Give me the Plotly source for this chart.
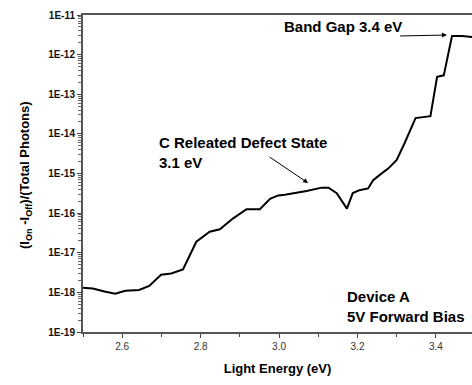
import plotly.graph_objects as go

energy = [2.50, 2.525, 2.555, 2.582, 2.608, 2.643, 2.669, 2.699, 2.725, 2.755, 2.789, 2.823, 2.849,
          2.883, 2.917, 2.951, 2.977, 2.998, 3.015, 3.07, 3.109, 3.126, 3.147, 3.173, 3.188, 3.205,
          3.227, 3.24, 3.256, 3.279, 3.30, 3.32, 3.348, 3.37, 3.386, 3.403, 3.42, 3.441, 3.467, 3.497]
signal = [1.3e-18, 1.25e-18, 1.05e-18, 0.93e-18, 1.1e-18, 1.15e-18, 1.45e-18, 2.8e-18, 3.0e-18,
          3.8e-18, 1.9e-17, 3.4e-17, 3.9e-17, 7.4e-17, 1.25e-16, 1.25e-16, 2.3e-16, 2.8e-16,
          2.9e-16, 3.6e-16, 4.4e-16, 4.4e-16, 3.2e-16, 1.3e-16, 3.2e-16, 3.8e-16, 4.2e-16,
          6.8e-16, 9.1e-16, 1.35e-15, 2.2e-15, 5.8e-15, 2.5e-14, 2.7e-14, 2.8e-14, 2.75e-13,
          3.0e-13, 2.95e-12, 2.95e-12, 2.75e-12]

ytick_vals = [1e-19, 1e-18, 1e-17, 1e-16, 1e-15, 1e-14, 1e-13, 1e-12, 1e-11]
ytick_text = ["1E-19", "1E-18", "1E-17", "1E-16", "1E-15", "1E-14", "1E-13", "1E-12", "1E-11"]
xtick_vals = [2.6, 2.8, 3.0, 3.2, 3.4]
xtick_text = ["2.6", "2.8", "3.0", "3.2", "3.4"]

FONT = "Liberation Sans, Arial, sans-serif"
L, T, W, H = 83, 15, 389, 317


def px(x):
    return (x - L) / W


def py(y):
    return 1 - (y - T) / H


fig = go.Figure()
fig.add_trace(go.Scatter(x=energy, y=signal, mode="lines",
                         line=dict(color="black", width=2), showlegend=False))

fig.update_layout(
    width=472, height=385,
    margin=dict(l=L, r=0, t=T, b=53),
    paper_bgcolor="white", plot_bgcolor="white",
    font=dict(family=FONT, color="black"),
    xaxis=dict(range=[2.5, 3.492], tickvals=xtick_vals, ticktext=xtick_text,
               ticks="outside", ticklen=4, tickwidth=1, tickcolor="#444",
               showline=True, linecolor="#555", linewidth=2, mirror=True,
               showgrid=False, zeroline=False,
               tickfont=dict(size=10, family=FONT, color="#333"),
               minor=dict(tickvals=[2.5, 2.7, 2.9, 3.1, 3.3], ticks="outside", ticklen=3, tickcolor="#444"),
               title=dict(text="<b>Light Energy (eV)</b>", font=dict(size=13, family=FONT), standoff=13)),
    yaxis=dict(type="log", range=[-19, -11], tickvals=ytick_vals, ticktext=ytick_text,
               ticks="outside", ticklen=4, tickwidth=1, tickcolor="#444",
               showline=True, linecolor="#555", linewidth=2,
               showgrid=False, zeroline=False,
               tickfont=dict(size=10, family=FONT, color="#111", weight="bold"),
               minor=dict(ticks="outside", ticklen=3, tickcolor="#666", dtick="D1")),
)

# y-axis title
fig.add_annotation(xref="paper", yref="paper", x=px(25), y=py(175), textangle=-90,
                   text="<b>(I<sub>On</sub> -I<sub>Off</sub>)/(Total Photons)</b>", showarrow=False,
                   xanchor="center", yanchor="middle", font=dict(size=13, family=FONT))

# Band gap arrow
fig.add_annotation(x=3.428, y=-11.505, xref="x", yref="y", ax=3.305, ay=-11.53, axref="x", ayref="y",
                   text="", showarrow=True, arrowhead=2, arrowsize=1, arrowwidth=1, arrowcolor="black")
fig.add_annotation(xref="paper", yref="paper", x=px(282), y=py(26),
                   text="<b>Band Gap 3.4 eV</b>", showarrow=False, xanchor="left", yanchor="middle",
                   font=dict(size=15, family=FONT))
fig.add_annotation(xref="paper", yref="paper", x=px(157), y=py(152),
                   text="<b>C Releated Defect State<br>3.1 eV</b>", showarrow=False, align="left",
                   xanchor="left", yanchor="middle", font=dict(size=15, family=FONT))
# Defect state arrow
fig.add_annotation(x=3.074, y=-15.24, xref="x", yref="y", ax=-40, ay=-27,
                   text="", showarrow=True, arrowhead=2, arrowsize=1, arrowwidth=1, arrowcolor="black")
fig.add_annotation(xref="paper", yref="paper", x=px(345), y=py(306),
                   text="<b>Device A<br>5V Forward Bias</b>", showarrow=False, align="left",
                   xanchor="left", yanchor="middle", font=dict(size=15, family=FONT))

fig.write_html("out.html")
